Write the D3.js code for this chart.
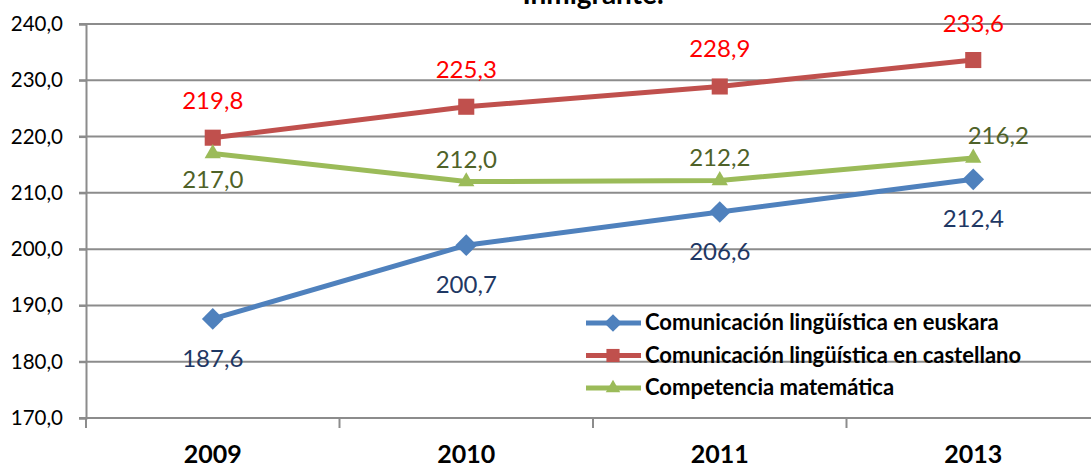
<!DOCTYPE html>
<html lang="es">
<head>
    <meta charset="UTF-8">
    <script src="https://d3js.org/d3.v7.min.js"></script>
    <title>Inmigrante</title>
    <style>
        body{
            margin: 0;
            background: #fff;
            font-family: Lato, "Open Sans", sans-serif;
        }
        svg{
            display: block;
        }
    </style>
</head>
<body>
<svg width="1091" height="467"></svg>
<script>
// data
const years = ["2009", "2010", "2011", "2013"]
const euskara = [187.6, 200.7, 206.6, 212.4]
const castellano = [219.8, 225.3, 228.9, 233.6]
const matematica = [217.0, 212.0, 212.2, 216.2]
const seriesNames = ["Comunicación lingüística en euskara",
    "Comunicación lingüística en castellano",
    "Competencia matemática"]
const yTicks = [170, 180, 190, 200, 210, 220, 230, 240]

const fmt = v => d3.format(".1f")(v).replace(".", ",")

let svg = d3.select("svg")

let x = d3.scaleBand().domain(years).range([86, 1100]).padding(0)
let y = d3.scaleLinear().domain([170, 240]).range([418, 24])

// series settings (label offsets in px from the point)
let series = [
    {name: seriesNames[0], values: euskara, color: "#4f81bd", label: "#1f3864", marker: "diamond",
        dy: [48, 48, 48, 48], dx: [0, 0, 0, 0]},
    {name: seriesNames[1], values: castellano, color: "#c0504d", label: "#ff0000", marker: "square",
        dy: [-29, -29, -29, -28], dx: [0, 0, 0, 0]},
    {name: seriesNames[2], values: matematica, color: "#9bbb59", label: "#4f6228", marker: "triangle",
        dy: [35, -14, -14, -14], dx: [0, 0, 0, 25]}
]

// title (cut off at the top, as in the original)
svg.append("text")
    .attr("x", 593).attr("y", 4)
    .attr("text-anchor", "middle")
    .attr("font-weight", "bold")
    .attr("font-size", 28)
    .text("Inmigrante.")

// gridlines
svg.append("g").selectAll("line").data(yTicks).join("line")
    .attr("x1", 79).attr("x2", 1091)
    .attr("y1", d => y(d)).attr("y2", d => y(d))
    .attr("stroke", "#8c8c8c").attr("stroke-width", 2)

// y axis
let yAxis = svg.append("g").attr("transform", "translate(86,0)")
    .call(d3.axisLeft(y).tickValues(yTicks).tickFormat(fmt).tickSize(7).tickPadding(16))
yAxis.select(".domain").attr("stroke", "#8c8c8c").attr("stroke-width", 2)
yAxis.selectAll(".tick line").attr("stroke", "#8c8c8c").attr("stroke-width", 2)
yAxis.selectAll("text").attr("font-size", 20.5).attr("fill", "#000").attr("font-family", "Lato")

// x axis
let xAxis = svg.append("g").attr("transform", "translate(0,418)")
    .call(d3.axisBottom(x).tickSize(0).tickPadding(27))
xAxis.select(".domain").remove()
xAxis.selectAll("text").attr("font-size", 25).attr("font-weight", "bold")
    .attr("fill", "#000").attr("font-family", "Lato")
xAxis.selectAll(".sep").data(years).join("line").attr("class", "sep")
    .attr("x1", d => x(d)).attr("x2", d => x(d))
    .attr("y1", 0).attr("y2", 10)
    .attr("stroke", "#8c8c8c").attr("stroke-width", 2)

const cx = d => x(d) + x.bandwidth() / 2

function markerPath(type, size) {
    let sym = type === "diamond" ? d3.symbolDiamond2 : type === "square" ? d3.symbolSquare2 : d3.symbolTriangle2
    return d3.symbol().type(sym).size(size)()
}

let line = d3.line().x(d => cx(d.year)).y(d => y(d.value))

series.forEach(s => {
    let pts = years.map((yr, i) => ({year: yr, value: s.values[i], i: i}))
    let g = svg.append("g")
    g.append("path").datum(pts)
        .attr("d", line)
        .attr("fill", "none").attr("stroke", s.color).attr("stroke-width", 5)
    g.selectAll(".m").data(pts).join("path").attr("class", "m")
        .attr("transform", d => `translate(${cx(d.year)},${y(d.value)})`)
        .attr("d", markerPath(s.marker, s.marker === "triangle" ? 190 : s.marker === "square" ? 330 : 300))
        .attr("fill", s.color)
    g.selectAll(".lbl").data(pts).join("text").attr("class", "lbl")
        .attr("x", d => cx(d.year) + s.dx[d.i])
        .attr("y", d => y(d.value) + s.dy[d.i])
        .attr("text-anchor", "middle")
        .attr("font-size", 24)
        .attr("fill", s.label)
        .text(d => fmt(d.value))
})

// legend
let legend = svg.append("g").attr("transform", "translate(586,323)")
series.forEach((s, i) => {
    let row = legend.append("g").attr("transform", `translate(0,${i * 32.5})`)
    row.append("line").attr("x1", 0).attr("x2", 55).attr("y1", 0).attr("y2", 0)
        .attr("stroke", s.color).attr("stroke-width", 5)
    row.append("path")
        .attr("transform", "translate(27,0)")
        .attr("d", markerPath(s.marker, s.marker === "triangle" ? 150 : s.marker === "square" ? 220 : 200))
        .attr("fill", s.color)
    row.append("text").attr("x", 59).attr("y", 7)
        .attr("font-size", 22).attr("font-weight", "bold")
        .text(s.name)
})
</script>
</body>
</html>
